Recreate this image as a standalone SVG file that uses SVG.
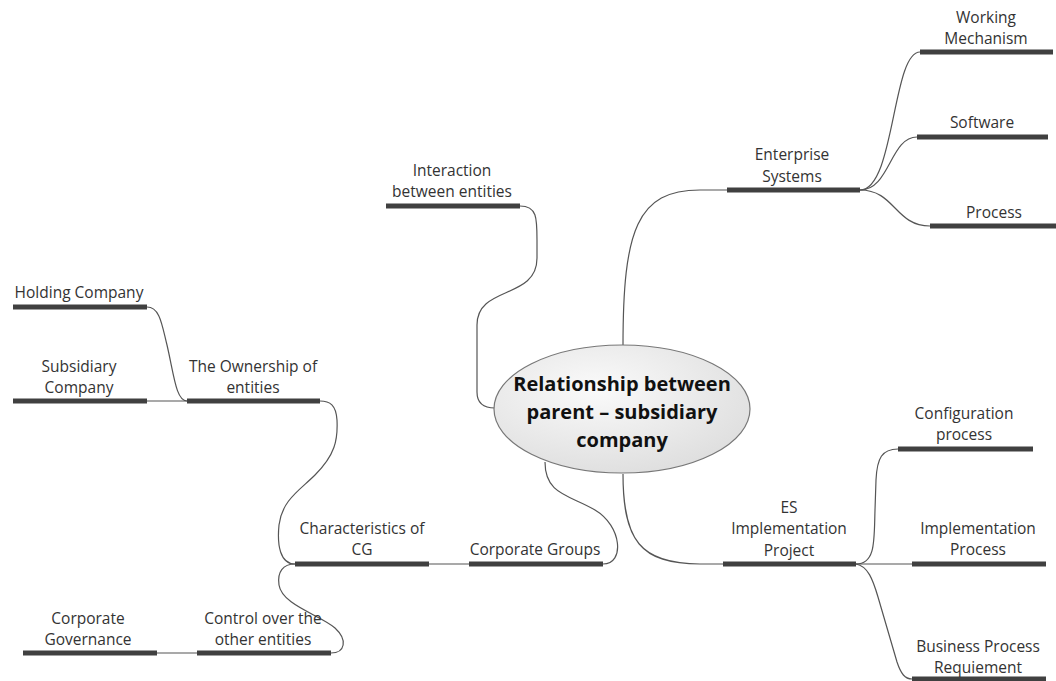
<svg xmlns="http://www.w3.org/2000/svg" width="1056" height="681" viewBox="0 0 1056 681">
<defs>
<radialGradient id="eg" cx="0.4" cy="0.35" r="0.7">
<stop offset="0" stop-color="#fafafa"/>
<stop offset="1" stop-color="#dedede"/>
</radialGradient>
<style>
.bar{stroke:#404040;stroke-width:5;fill:none;stroke-linecap:butt}
.c{stroke:#555;stroke-width:1.2;fill:none}
.t{font-family:"Open Sans","Liberation Sans",sans-serif;font-size:15.5px;fill:#333;text-anchor:middle}
.title{font-family:"Open Sans","Liberation Sans",sans-serif;font-size:20px;font-weight:bold;fill:#111;text-anchor:middle}
</style>
</defs>
<rect width="1056" height="681" fill="#fff"/>
<g id="connectors">
<path class="c" d="M623,346 C623,230 637,190 700,190 L727,190"/>
<path class="c" d="M860,190 C895,190 892,52 920,52"/>
<path class="c" d="M860,190 C890,190 890,137 917,137"/>
<path class="c" d="M860,190 C895,190 895,226 930,226"/>
<path class="c" d="M520,206 C537,206 537,218 537,240 L537,258 C537,300 477,285 477,325 L477,392 C477,404 485,408 495,408"/>
<path class="c" d="M545,462 C545,495 570,495 595,510 C622,526 625,564 603,564"/>
<path class="c" d="M429,564 L469,564"/>
<path class="c" d="M295,564 C280,564 277,545 279,525 C282,500 300,490 315,475 C335,455 338,440 337,420 C336,405 330,401 320,401"/>
<path class="c" d="M147,307 C160,307 162,325 167,345 C174,375 176,401 187,401"/>
<path class="c" d="M147,401 L187,401"/>
<path class="c" d="M295,564 C283,564 277,572 279,585 C282,605 320,615 335,628 C348,640 345,653 331,653"/>
<path class="c" d="M157,653 L197,653"/>
<path class="c" d="M623,474 C623,540 640,564 700,564 L723,564"/>
<path class="c" d="M856,564 C876,564 874,540 875,510 L876,480 C877,458 882,449 898,449"/>
<path class="c" d="M856,564 L912,564"/>
<path class="c" d="M856,564 C868,566 873,580 878,597 L897,662 C901,674 905,679 912,679"/>
</g>
<g id="center">
<ellipse cx="622" cy="409" rx="128" ry="64" fill="url(#eg)" stroke="#777" stroke-width="1.2"/>
<text class="title" x="622" y="391">Relationship between</text>
<text class="title" x="622" y="419">parent – subsidiary</text>
<text class="title" x="622" y="447">company</text>
</g>
<g id="working-mechanism">
<line class="bar" x1="920" y1="52" x2="1053" y2="52"/>
<text class="t" x="986" y="23">Working</text>
<text class="t" x="986" y="44">Mechanism</text>
</g>
<g id="software">
<line class="bar" x1="917" y1="137" x2="1048" y2="137"/>
<text class="t" x="982" y="128">Software</text>
</g>
<g id="process">
<line class="bar" x1="930" y1="226" x2="1056" y2="226"/>
<text class="t" x="994" y="218">Process</text>
</g>
<g id="enterprise-systems">
<line class="bar" x1="727" y1="190" x2="860" y2="190"/>
<text class="t" x="792" y="160">Enterprise</text>
<text class="t" x="792" y="182">Systems</text>
</g>
<g id="interaction">
<line class="bar" x1="386" y1="206" x2="520" y2="206"/>
<text class="t" x="452" y="176">Interaction</text>
<text class="t" x="452" y="197">between entities</text>
</g>
<g id="holding-company">
<line class="bar" x1="13" y1="307" x2="147" y2="307"/>
<text class="t" x="79" y="298">Holding Company</text>
</g>
<g id="subsidiary-company">
<line class="bar" x1="13" y1="401" x2="147" y2="401"/>
<text class="t" x="79" y="372">Subsidiary</text>
<text class="t" x="79" y="393">Company</text>
</g>
<g id="ownership">
<line class="bar" x1="187" y1="401" x2="320" y2="401"/>
<text class="t" x="253" y="372">The Ownership of</text>
<text class="t" x="253" y="393">entities</text>
</g>
<g id="characteristics">
<line class="bar" x1="295" y1="564" x2="429" y2="564"/>
<text class="t" x="362" y="534">Characteristics of</text>
<text class="t" x="362" y="555">CG</text>
</g>
<g id="corporate-groups">
<line class="bar" x1="469" y1="564" x2="603" y2="564"/>
<text class="t" x="535" y="555">Corporate Groups</text>
</g>
<g id="control">
<line class="bar" x1="197" y1="653" x2="331" y2="653"/>
<text class="t" x="263" y="624">Control over the</text>
<text class="t" x="263" y="645">other entities</text>
</g>
<g id="corporate-governance">
<line class="bar" x1="23" y1="653" x2="157" y2="653"/>
<text class="t" x="88" y="624">Corporate</text>
<text class="t" x="88" y="645">Governance</text>
</g>
<g id="es-implementation">
<line class="bar" x1="723" y1="564" x2="856" y2="564"/>
<text class="t" x="789" y="513">ES</text>
<text class="t" x="789" y="534">Implementation</text>
<text class="t" x="789" y="556">Project</text>
</g>
<g id="configuration">
<line class="bar" x1="898" y1="449" x2="1033" y2="449"/>
<text class="t" x="964" y="419">Configuration</text>
<text class="t" x="964" y="440">process</text>
</g>
<g id="implementation-process">
<line class="bar" x1="912" y1="564" x2="1046" y2="564"/>
<text class="t" x="978" y="534">Implementation</text>
<text class="t" x="978" y="555">Process</text>
</g>
<g id="business-process">
<line class="bar" x1="912" y1="679" x2="1046" y2="679"/>
<text class="t" x="978" y="652">Business Process</text>
<text class="t" x="978" y="673">Requiement</text>
</g>
</svg>
